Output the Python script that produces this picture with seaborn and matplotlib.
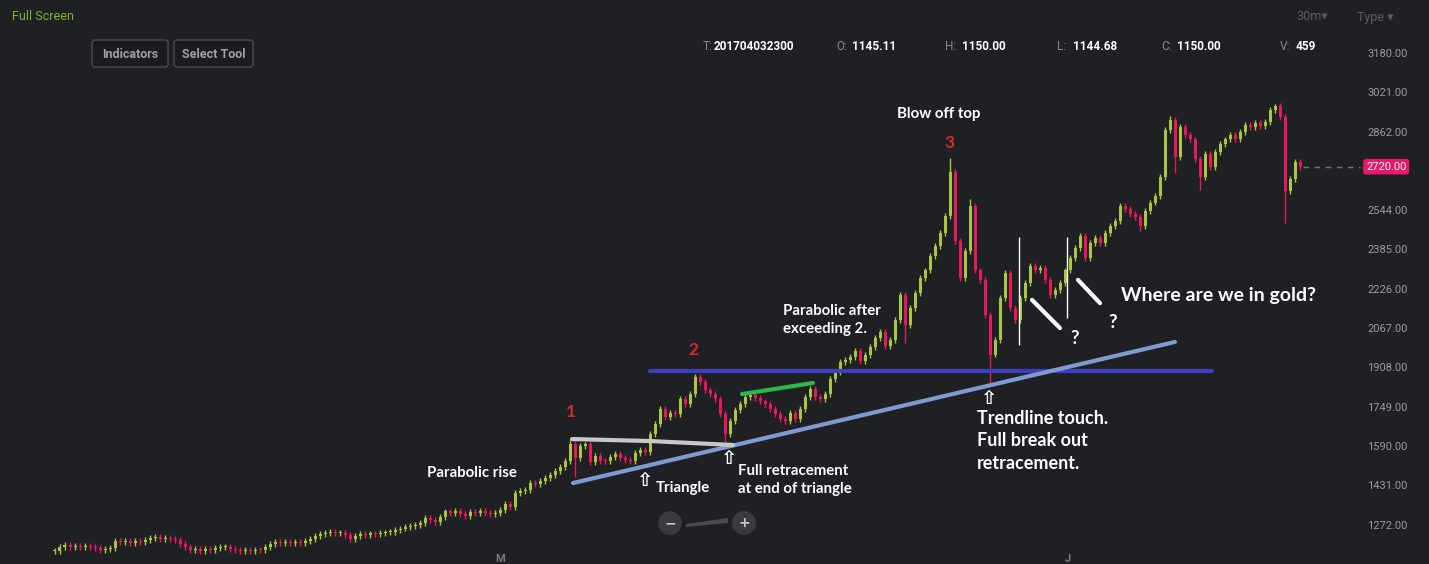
import numpy as np
import pandas as pd
import seaborn as sns
import matplotlib.pyplot as plt
from matplotlib.patches import FancyBboxPatch, Polygon

# closing prices, one candle every bar (left to right)
closes = [
    1165, 1180, 1188, 1183, 1186, 1180, 1187, 1182, 1176, 1168,
    1175, 1178, 1205, 1200, 1204, 1198, 1206, 1202, 1210, 1216,
    1220, 1213, 1216, 1212, 1210, 1195, 1180, 1168, 1175, 1165,
    1172, 1168, 1176, 1180, 1183, 1172, 1170, 1165, 1168, 1166,
    1170, 1168, 1182, 1195, 1203, 1198, 1200, 1196, 1202, 1199,
    1204, 1212, 1226, 1233, 1238, 1243, 1236, 1238, 1228, 1214,
    1226, 1233, 1228, 1236, 1232, 1238, 1240, 1243, 1250, 1256,
    1264, 1268, 1272, 1278, 1300, 1290, 1284, 1302, 1325, 1320,
    1328, 1315, 1305, 1322, 1318, 1326, 1320, 1314, 1318, 1332,
    1356, 1345, 1400, 1408, 1412, 1440, 1436, 1448, 1462, 1473,
    1490, 1505, 1530, 1600, 1540, 1590, 1596, 1525, 1550, 1530,
    1528, 1545, 1556, 1540, 1535, 1528, 1560, 1572, 1565, 1640,
    1680, 1740, 1708, 1725, 1720, 1780, 1760, 1800, 1870, 1848,
    1815, 1800, 1780, 1720, 1640, 1690, 1735, 1760, 1790, 1798,
    1786, 1770, 1760, 1738, 1720, 1700, 1690, 1725, 1700, 1740,
    1790, 1822, 1790, 1780, 1800, 1860, 1890, 1930, 1938, 1950,
    1975, 1935, 1958, 1990, 2025, 2050, 1995, 2020, 2100, 2200,
    2080, 2150, 2210, 2270, 2300, 2360, 2400, 2450, 2520, 2700,
    2420, 2270, 2380, 2560, 2300, 2260, 2120, 1960, 2020, 2190,
    2290, 2150, 2100, 2190, 2250, 2320, 2300, 2310, 2260, 2200,
    2220, 2250, 2300, 2350, 2390, 2440, 2350, 2410, 2430, 2410,
    2450, 2480, 2500, 2560, 2550, 2530, 2515, 2480, 2540, 2575,
    2600, 2680, 2870, 2910, 2760, 2880, 2850, 2830, 2750, 2680,
    2770, 2720, 2780, 2810, 2830, 2850, 2830, 2860, 2890, 2880,
    2895, 2885, 2900, 2950, 2965, 2920, 2620, 2670, 2740, 2720,
]
# long wicks
spike_highs = {103: 1614, 128: 1880, 179: 2755, 183: 2590, 223: 2925, 244: 2975}
spike_lows = {104: 1465, 134: 1605, 170: 2007, 187: 1845, 217: 2460,
              224: 2694, 229: 2626, 246: 2492}

price_ticks = [1272, 1431, 1590, 1749, 1908, 2067, 2226, 2385, 2544, 2862, 3021, 3180]
last_price = 2720.00
time_ticks = [89, 202.6]
time_labels = ["M", "J"]

# drawn lines (bar index, price)
level_x, level_y = [119, 231.4], [1893, 1893]
trend_x, trend_y = [103.6, 224], [1440, 2011]
tri_x, tri_y = [103.4, 119, 135.6], [1618, 1610, 1594]
green_x, green_y = [137.4, 151.6], [1800, 1845]
marks_x = [192.8, 202.4]
marks_lo, marks_hi = [1999, 2108], [2436, 2436]
slash1_x, slash1_y = [195.4, 201], [2181, 2067]
slash2_x, slash2_y = [204.6, 209], [2262, 2168]

BG = "#1f2024"
UP = "#a9c83c"
DOWN = "#e8185c"
W, H, DPI = 1429, 564, 100

sns.set_theme(style="dark", rc={"axes.facecolor": BG, "figure.facecolor": BG})
plt.rcParams["font.family"] = ["Lato", "DejaVu Sans"]

df = pd.DataFrame({"close": closes})
df["i"] = np.arange(len(df))
df["open"] = df["close"].shift(1).fillna(df["close"].iloc[0])
df["high"] = df[["open", "close"]].max(axis=1) + 12
df["low"] = df[["open", "close"]].min(axis=1) - 12
for k, v in spike_highs.items():
    df.loc[k, "high"] = v
for k, v in spike_lows.items():
    df.loc[k, "low"] = v
df["color"] = np.where(df["close"] >= df["open"], UP, DOWN)
df["body"] = (df["close"] - df["open"]).abs().clip(lower=4)
df["bottom"] = df[["open", "close"]].min(axis=1)

fig = plt.figure(figsize=(W / DPI, H / DPI), dpi=DPI)
ax = fig.add_axes([0, 0, 1, 1])
ax.set_xlim(-11, 274.8)
ax.set_ylim(1112.5, 3394.4)

ax.vlines(df["i"], df["low"], df["high"], colors=df["color"], lw=1)
ax.bar(df["i"], df["body"], bottom=df["bottom"], width=0.6, color=df["color"], lw=0)

# annotation lines
sns.lineplot(x=level_x, y=level_y, ax=ax, color="#3b3fc0", lw=3)
sns.lineplot(x=trend_x, y=trend_y, ax=ax, color="#7d9bd0", lw=3)
sns.lineplot(x=tri_x, y=tri_y, ax=ax, color="#c9c9c9", lw=3)
sns.lineplot(x=green_x, y=green_y, ax=ax, color="#2db84c", lw=3)
sns.lineplot(x=slash1_x, y=slash1_y, ax=ax, color="white", lw=3)
sns.lineplot(x=slash2_x, y=slash2_y, ax=ax, color="white", lw=3)
ax.vlines(marks_x, marks_lo, marks_hi, colors="white", lw=1)

# last price
ax.hlines(last_price, len(df) - 0.5, 261, colors="#777777", lw=1, linestyles=(0, (4, 4)))
ax.text(1366 / W, last_price, f"{last_price:.2f}", transform=ax.get_yaxis_transform(),
        ha="left", va="center", color="white", fontsize=8, family=["Roboto", "DejaVu Sans"],
        bbox=dict(boxstyle="round,pad=0.25", fc="#e8186a", ec="none"))

# axes
ax.yaxis.tick_right()
ax.set_yticks(price_ticks)
ax.set_yticklabels([f"{t:.2f}" for t in price_ticks])
ax.tick_params(axis="y", length=0, pad=-(W - 1367) * 0.72, labelsize=8, labelcolor="#9c9c9c")
ax.set_xticks(time_ticks)
ax.set_xticklabels(time_labels)
ax.tick_params(axis="x", length=0, pad=-7, labelsize=8, labelcolor="#7a7a7a")
for lbl in ax.get_yticklabels() + ax.get_xticklabels():
    lbl.set_fontfamily(["Roboto", "DejaVu Sans"])
for lbl in ax.get_xticklabels():
    lbl.set_fontweight("bold")
ax.set_xlabel("")
ax.set_ylabel("")
ax.grid(False)
for s in ax.spines.values():
    s.set_visible(False)


def at(x, y):
    return x / DPI, (H - y) / DPI


def note(x, y, s, size=10, color="white", ha="left", **kw):
    fig.text(*at(x, y), s, transform=fig.dpi_scale_trans, ha=ha, va="center",
             color=color, fontsize=size, fontweight="bold", **kw)


# chart notes
note(427, 473, "Parabolic rise", size=10.8)
note(656, 488, "Triangle", size=10.8)
note(738, 480, "Full retracement\nat end of triangle", size=10.8, linespacing=1.3)
note(783, 320, "Parabolic after\nexceeding 2.", size=10.8, linespacing=1.3)
note(897, 114, "Blow off top", size=10.8)
note(977, 441, "Trendline touch.\nFull break out\nretracement.", size=13, linespacing=1.38)
note(1121, 296, "Where are we in gold?", size=14)
note(1075, 338, "?", size=13.5, ha="center")
note(1113, 322, "?", size=13.5, ha="center")
for x, y, s in [(571, 412, "1"), (693, 350, "2"), (950, 143, "3")]:
    note(x, y, s, size=12.5, color="#d8282c", ha="center")
for x, y in [(644, 480), (728, 459), (988, 399)]:
    note(x, y, "\u21e7", size=14, ha="center", family="DejaVu Sans")

# header
hdr = ["Roboto", "DejaVu Sans"]
fig.text(*at(12, 17), "Full Screen", transform=fig.dpi_scale_trans, va="center",
         color="#7db52c", fontsize=9, family=hdr)
for x0, x1, s in [(92, 168, "Indicators"), (174, 253, "Select Tool")]:
    fig.add_artist(FancyBboxPatch(at(x0, 67), (x1 - x0) / DPI, 27 / DPI,
                                  boxstyle="round,pad=0,rounding_size=0.03",
                                  transform=fig.dpi_scale_trans, fc="#1b1c1f", ec="#4a4b50", lw=1))
    fig.text(*at((x0 + x1) / 2, 54), s, transform=fig.dpi_scale_trans, ha="center", va="center",
             color="#a0a0a0", fontsize=9, fontweight="bold", family=hdr)
ohlc = [("T:", "201704032300", 703, 714), ("O:", "1145.11", 836, 852),
        ("H:", "1150.00", 945, 962), ("L:", "1144.68", 1057, 1073),
        ("C:", "1150.00", 1161, 1177), ("V:", "459", 1280, 1296)]
for lab, val, xl, xv in ohlc:
    fig.text(*at(xl, 47), lab, transform=fig.dpi_scale_trans, va="center",
             color="#8a8a8a", fontsize=8.5, family=hdr)
    fig.text(*at(xv, 47), val, transform=fig.dpi_scale_trans, va="center",
             color="white", fontsize=8.5, fontweight="bold", family=hdr)
fig.text(*at(1296, 17), "30m\u25be", transform=fig.dpi_scale_trans, va="center",
         color="#5c5c5c", fontsize=9, family=hdr)
fig.text(*at(1357, 17), "Type \u25be", transform=fig.dpi_scale_trans, va="center",
         color="#5c5c5c", fontsize=9, family=hdr)

# zoom control
for x, s in [(670, "\u2212"), (744, "+")]:
    fig.text(*at(x, 523), s, transform=fig.dpi_scale_trans, ha="center", va="center",
             color="#c8c8c8", fontsize=10, fontweight="bold", family="DejaVu Sans",
             bbox=dict(boxstyle="circle,pad=0.35", fc="#3a3b40", ec="none"))
fig.add_artist(Polygon([at(686, 527), at(728, 523), at(728, 518), at(686, 524)],
                       closed=True, transform=fig.dpi_scale_trans, fc="#4a4b50", ec="none"))

fig.savefig("out.png", dpi=DPI, facecolor=BG)
